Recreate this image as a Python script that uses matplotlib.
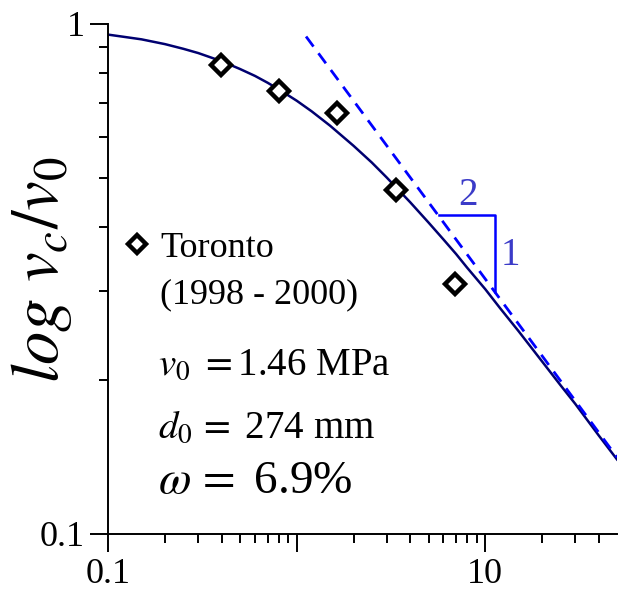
import matplotlib
matplotlib.use("Agg")
import matplotlib.pyplot as plt
from matplotlib.ticker import FixedLocator, FixedFormatter, NullFormatter

plt.rcParams['font.family'] = ['Liberation Serif', 'DejaVu Serif']
plt.rcParams['mathtext.fontset'] = 'stix'

# Messpunkte Toronto (1998 - 2000)
size_ratio = [0.397, 0.809, 1.63, 3.35, 6.93]
strength_ratio = [0.831, 0.740, 0.670, 0.473, 0.309]

# angepasste Kurve
curve_x = [0.1, 0.12, 0.15, 0.2, 0.25, 0.3, 0.4, 0.5, 0.6, 0.7, 0.8, 1.0, 1.2,
           1.5, 2.0, 2.5, 3.0, 4.0, 5.0, 6.0, 7.0, 8.0, 10, 12, 15, 20, 25, 30, 40, 50]
curve_y = [0.953, 0.944, 0.933, 0.913, 0.894, 0.877, 0.845, 0.816, 0.791, 0.767,
           0.745, 0.707, 0.674, 0.632, 0.577, 0.535, 0.500, 0.447, 0.408, 0.378,
           0.354, 0.333, 0.302, 0.277, 0.250, 0.218, 0.196, 0.180, 0.156, 0.140]

# Asymptote mit Steigung -1/2
asym_x = [1.12, 50]
asym_y = [0.945, 0.1414]

# Steigungsdreieck
tri_x = [5.65, 11.3, 11.3]
tri_y = [0.422, 0.422, 0.298]

x_ticks = [0.1, 1, 10]
x_labels = ['0.1', '', '10']
y_ticks = [0.1, 1]
y_labels = ['0.1', '1']

fig = plt.figure(figsize=(6.22, 5.92), dpi=100)
ax = fig.add_axes([0.1741, 0.098, 0.8179, 0.8615])

ax.plot(curve_x, curve_y, color='#000070', linewidth=1.8)
ax.plot(asym_x, asym_y, color='#0000ff', linewidth=2.0, dashes=(4.5, 3))
ax.plot(tri_x, tri_y, color='#0000ff', linewidth=1.8)
pts, = ax.plot(size_ratio, strength_ratio, linestyle='none', marker='D',
               markersize=10.5, markerfacecolor='white', markeredgecolor='black',
               markeredgewidth=3.2)

ax.text(8.1, 0.462, '2', fontsize=28, color='#3b3bc8', ha='center', va='center')
ax.text(13.6, 0.352, '1', fontsize=28, color='#3b3bc8', ha='center', va='center')

ax.set_xscale('log')
ax.set_yscale('log')
ax.set_xlim(0.1, 50)
ax.set_ylim(0.1, 1)

ax.xaxis.set_major_locator(FixedLocator(x_ticks))
ax.xaxis.set_major_formatter(FixedFormatter(x_labels))
ax.xaxis.set_minor_locator(FixedLocator([m * d for d in (0.1, 1, 10) for m in range(2, 10) if m * d < 50]))
ax.xaxis.set_minor_formatter(NullFormatter())
ax.yaxis.set_major_locator(FixedLocator(y_ticks))
ax.yaxis.set_major_formatter(FixedFormatter(y_labels))
ax.yaxis.set_minor_locator(FixedLocator([m * 0.1 for m in range(2, 10)]))
ax.yaxis.set_minor_formatter(NullFormatter())

ax.spines['right'].set_visible(False)
ax.spines['top'].set_visible(False)
for s in ('left', 'bottom'):
    ax.spines[s].set_linewidth(1.4)
ax.tick_params(which='major', direction='out', length=13, width=1.4, labelsize=26, pad=4)
ax.tick_params(which='minor', direction='out', length=6.5, width=1.4)

ax.set_ylabel(r'$log\ v_c/v_0$', fontsize=48, ha='center', va='center')
ax.yaxis.set_label_coords(-0.132, 0.518)

ax.legend(handles=[pts], labels=['Toronto'], loc='center left',
          bbox_to_anchor=(118.7 / 622, 1 - 248 / 592), bbox_transform=fig.transFigure,
          frameon=False, fontsize=26, handlelength=1.0, handletextpad=0.15,
          borderpad=0, borderaxespad=0, markerscale=0.85)

fig.text(160 / 622, 1 - 303 / 592, '(1998 - 2000)', fontsize=26, va='baseline')
fig.text(158 / 622, 1 - 375 / 592, r'$v_0\ =$1.46 MPa', fontsize=28, va='baseline')
fig.text(158 / 622, 1 - 438 / 592, r'$d_0\,=$ 274 mm', fontsize=28, va='baseline')
fig.text(158 / 622, 1 - 493 / 592, r'$\omega\,=$ 6.9%', fontsize=34, va='baseline')

plt.savefig('out.png', dpi=100)
